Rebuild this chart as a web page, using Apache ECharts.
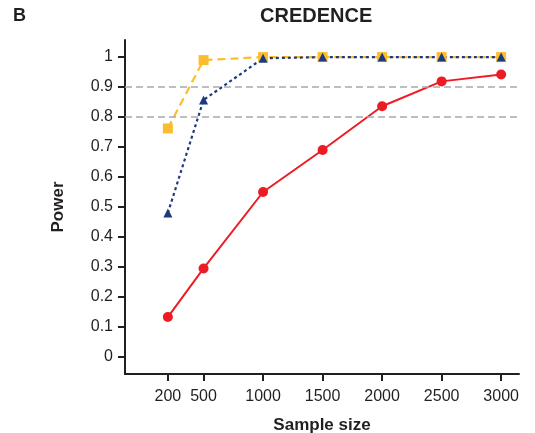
<!DOCTYPE html>
<html>
<head>
<meta charset="utf-8">
<script src="https://cdn.jsdelivr.net/npm/echarts@6/dist/echarts.min.js"></script>
<style>
  html, body { margin: 0; padding: 0; background: #fff; }
  #chart { width: 535px; height: 433px; }
</style>
</head>
<body>
<div id="chart"></div>
<script>
// sample sizes on the x axis
var sampleSizes = [200, 500, 1000, 1500, 2000, 2500, 3000];
var yTicks = [0, 0.1, 0.2, 0.3, 0.4, 0.5, 0.6, 0.7, 0.8, 0.9, 1];
var refLines = [0.8, 0.9];

// power per sample size
var redPower = [0.133, 0.295, 0.55, 0.69, 0.836, 0.919, 0.942];
var yellowPower = [0.762, 0.99, 1.0, 1.0, 1.0, 1.0, 1.0];
var bluePower = [0.48, 0.857, 0.996, 1.0, 1.0, 1.0, 1.0];

function pairs(vals) {
	var out = [];
	for (var i = 0; i < sampleSizes.length; i++) {
		out.push([sampleSizes[i], vals[i]]);
	}
	return out;
}

var font = '"Liberation Sans", Arial, sans-serif';
var ink = '#231f20';
var myChart = echarts.init(document.getElementById('chart'));

var option = {
	animation: false,
	textStyle: { fontFamily: font },
	title: [
		{ text: 'B', left: 8, top: 2, textStyle: { fontSize: 18, fontWeight: 'bold', color: ink, fontFamily: font } },
		{ text: 'CREDENCE', left: 255, top: 1, textStyle: { fontSize: 20, fontWeight: 'bold', color: ink, fontFamily: font } }
	],
	grid: { left: 125, right: 16, top: 40, bottom: 59, containLabel: false, outerBoundsMode: 'none' },
	xAxis: {
		type: 'value',
		min: -160,
		max: 3150,
		name: 'Sample size',
		nameLocation: 'middle',
		nameGap: 43,
		nameTextStyle: { fontSize: 17, fontWeight: 'bold', color: ink, fontFamily: font },
		splitLine: { show: false },
		axisLine: { show: true, onZero: false, lineStyle: { color: ink, width: 2 } },
		axisTick: { show: true, length: 7, customValues: sampleSizes, lineStyle: { color: ink, width: 2 } },
		axisLabel: {
			customValues: sampleSizes, fontSize: 16, color: ink, margin: 15, fontFamily: font,
			formatter: function (v) { return String(v); }
		}
	},
	yAxis: {
		type: 'value',
		min: -0.057,
		max: 1.057,
		name: 'Power',
		nameLocation: 'middle',
		nameGap: 58,
		nameTextStyle: { fontSize: 17, fontWeight: 'bold', color: ink, fontFamily: font },
		splitLine: { show: false },
		axisLine: { show: true, onZero: false, lineStyle: { color: ink, width: 2 } },
		axisTick: { show: true, length: 7, customValues: yTicks, lineStyle: { color: ink, width: 2 } },
		axisLabel: {
			customValues: yTicks, fontSize: 16, color: ink, margin: 12, fontFamily: font,
			formatter: function (v) { return String(v); }
		}
	},
	series: [
		{
			name: 'ref',
			type: 'line',
			data: [],
			markLine: {
				silent: true,
				symbol: 'none',
				label: { show: false },
				lineStyle: { color: '#a7a9ac', type: [7, 4], width: 1.5 },
				data: refLines.map(function (v) { return { yAxis: v }; })
			}
		},
		{
			name: 'red',
			type: 'line',
			data: pairs(redPower),
			symbol: 'circle',
			symbolSize: 10,
			lineStyle: { color: '#ed1c24', width: 2 },
			itemStyle: { color: '#ed1c24' }
		},
		{
			name: 'yellow',
			type: 'line',
			data: pairs(yellowPower),
			symbol: 'rect',
			symbolSize: 10,
			lineStyle: { color: '#fbbd2f', width: 2.2, type: [8, 5] },
			itemStyle: { color: '#fbbd2f' }
		},
		{
			name: 'blue',
			type: 'line',
			data: pairs(bluePower),
			symbol: 'triangle',
			symbolSize: 9,
			lineStyle: { color: '#1d3a7c', width: 2.2, type: [3, 3] },
			itemStyle: { color: '#1d3a7c' }
		}
	]
};
myChart.setOption(option);
</script>
</body>
</html>
